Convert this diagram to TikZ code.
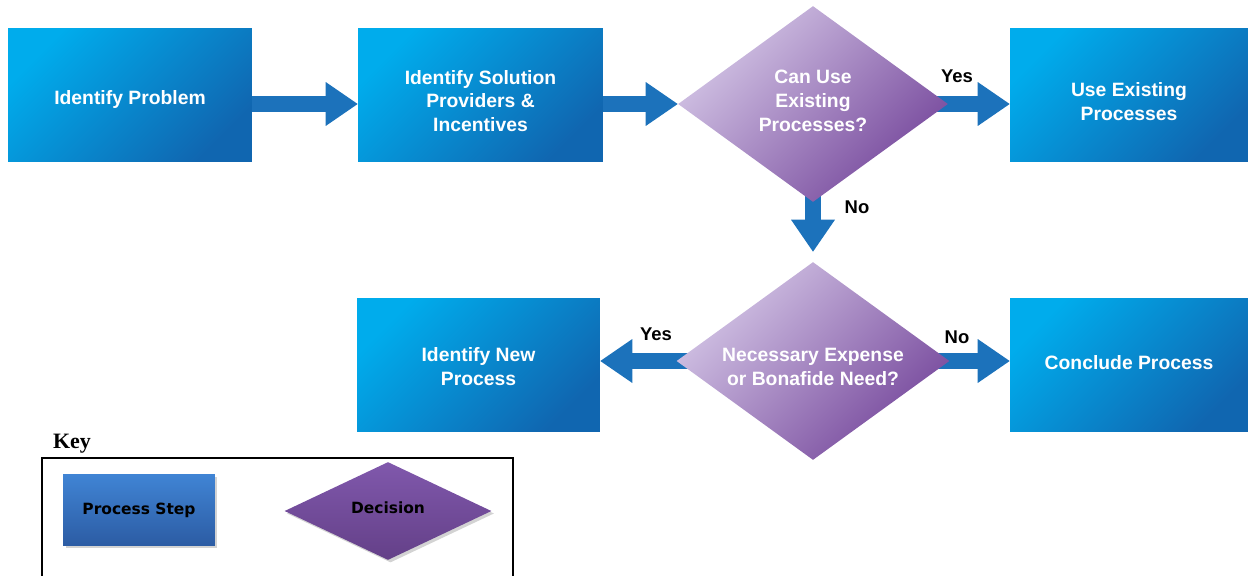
\documentclass[tikz,border=0pt]{standalone}
\usepackage{fontspec}
\setmainfont{Liberation Sans}
\newfontfamily\keyfont{Liberation Serif}
\newfontfamily\legendfont{DejaVu Sans}
\usetikzlibrary{shapes.geometric,arrows.meta,backgrounds,shadows}

\definecolor{stepLight}{RGB}{0,172,236}
\definecolor{stepDark}{RGB}{16,102,176}
\definecolor{askLight}{RGB}{212,198,230}
\definecolor{askDark}{RGB}{118,72,156}
\definecolor{flowBlue}{RGB}{28,114,187}
\definecolor{keyStepTop}{RGB}{64,132,212}
\definecolor{keyStepBot}{RGB}{44,92,164}
\definecolor{keyAskTop}{RGB}{128,88,172}
\definecolor{keyAskBot}{RGB}{100,64,136}

\begin{document}
\begin{tikzpicture}[x=0.02cm, y=-0.02cm,
  stepbox/.style={rectangle, minimum height=2.68cm,
    top color=stepLight, bottom color=stepDark, shading angle=45},
  askbox/.style={diamond, aspect=1.38, inner sep=0pt,
    top color=askLight, bottom color=askDark, shading angle=45},
  steptext/.style={text=white, align=center, font=\bfseries\fontsize{11}{13.6}\selectfont},
  flow/.style={flowBlue, line width=0.32cm,
    -{Triangle[length=0.64cm, width=0.88cm, line width=0pt]}},
  answer/.style={font=\bfseries\fontsize{10.5}{12}\selectfont},
  keyshadow/.style={drop shadow={shadow xshift=0.05cm, shadow yshift=-0.05cm, opacity=0.35}}]

  % Fix the page to the reference size
  \useasboundingbox (0,0) rectangle (1248,575);

  % Top row
  \node[stepbox, minimum width=4.88cm] (problem) at (130,95) {};
  \node[stepbox, minimum width=4.9cm] (providers) at (480.5,95) {};
  \node[askbox, minimum width=5.4cm, minimum height=3.92cm] (existing) at (813,104) {};
  \node[stepbox, minimum width=4.76cm] (useexisting) at (1129,95) {};

  % Second row
  \node[askbox, minimum width=5.46cm, minimum height=3.96cm] (need) at (813,361) {};
  \node[stepbox, minimum width=4.86cm] (newprocess) at (478.5,365) {};
  \node[stepbox, minimum width=4.76cm] (conclude) at (1129,365) {};

  % Texts, set a little below the centres as in the original
  \node[steptext] (problem-t) at ([yshift=-0.1cm]problem.center) {Identify Problem};
  \node[steptext] (providers-t) at ([yshift=-0.12cm]providers.center) {Identify Solution\\Providers \&\\Incentives};
  \node[steptext] (existing-t) at ([yshift=0.06cm]existing.center) {Can Use\\Existing\\Processes?};
  \node[steptext] (useexisting-t) at ([yshift=-0.14cm]useexisting.center) {Use Existing\\Processes};
  \node[steptext] (need-t) at ([yshift=-0.12cm]need.center) {Necessary Expense\\or Bonafide Need?};
  \node[steptext] (newprocess-t) at ([yshift=-0.04cm]newprocess.center) {Identify New\\Process};
  \node[steptext] (conclude-t) at ([yshift=0.04cm]conclude.center) {Conclude Process};

  % Block arrows, under the shapes
  \begin{scope}[on background layer]
    \draw[flow] (problem.east |- existing.center) -- (providers.west |- existing.center);
    \draw[flow] (providers.east |- existing.center) -- (existing.west);
    \draw[flow] (existing.center) -- (useexisting.west |- existing.center);
    \draw[flow, shorten >=0.2cm] (existing.center) -- (need.north);
    \draw[flow] (need.center) -- (newprocess.east |- need.center);
    \draw[flow] (need.center) -- (conclude.west |- need.center);
  \end{scope}

  % Answers on the arrows
  \node[answer] (yesone) at (957,76) {Yes};
  \node[answer] (noone) at (857,207) {No};
  \node[answer] (yestwo) at (656,334) {Yes};
  \node[answer] (notwo) at (957,337) {No};

  % Key
  \node[font=\keyfont\bfseries\fontsize{12.5}{14}\selectfont] (keytitle) at (72,444) {Key};
  \draw[line width=1.1pt] (42,580) -- (42,458) -- (513,458) -- (513,580);
  \node[rectangle, minimum width=3.04cm, minimum height=1.42cm, keyshadow,
    top color=keyStepTop, bottom color=keyStepBot,
    font=\legendfont\bfseries\fontsize{8.8}{10}\selectfont] (keystep) at (139,510) {Process Step};
  \node[diamond, aspect=2, inner sep=0pt, minimum width=4.14cm, minimum height=1.96cm, keyshadow,
    top color=keyAskTop, bottom color=keyAskBot] (keyask) at (388,511) {};
  \node[font=\legendfont\bfseries\fontsize{8.8}{10}\selectfont] (keyask-t) at ([yshift=0.06cm]keyask.center) {Decision};

\end{tikzpicture}
\end{document}
